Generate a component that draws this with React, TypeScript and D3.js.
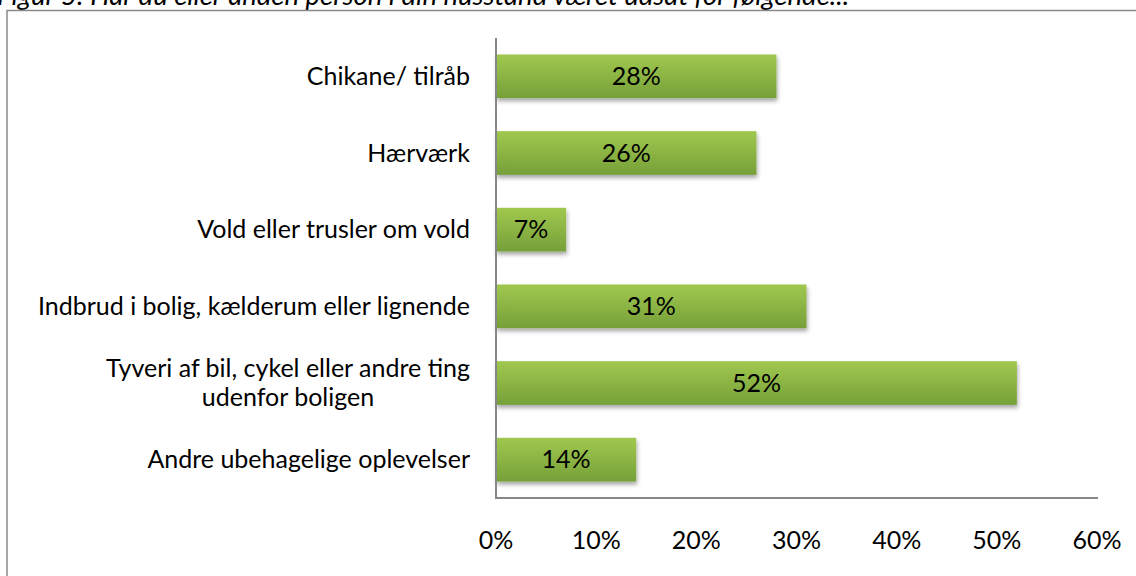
import React, { useRef, useEffect } from 'react';
import * as d3 from 'd3';

const categories = [
  'Chikane/ tilråb',
  'Hærværk',
  'Vold eller trusler om vold',
  'Indbrud i bolig, kælderum eller lignende',
  'Tyveri af bil, cykel eller andre ting|udenfor boligen',
  'Andre ubehagelige oplevelser',
];
const values = [28, 26, 7, 31, 52, 14];
const xTicks = [0, 10, 20, 30, 40, 50, 60];
const title = 'Figur 5: Har du eller anden person i din husstand været udsat for følgende...';

const FONT = 'Lato, "Open Sans", sans-serif';
const FS = 25;

function App() {
  const svgRef = useRef<SVGSVGElement>(null);

  useEffect(() => {
    const svg = d3.select(svgRef.current);
    const width = 1136;
    const height = 576;
    const margin = { top: 38, right: 39, bottom: 78, left: 496 };

    svg.selectAll('*').remove();

    const defs = svg.append('defs');
    const grad = defs.append('linearGradient')
      .attr('id', 'barGrad')
      .attr('x1', 0).attr('y1', 0).attr('x2', 0).attr('y2', 1);
    grad.append('stop').attr('offset', '0%').attr('stop-color', '#a0c84f');
    grad.append('stop').attr('offset', '100%').attr('stop-color', '#76a039');

    const shadow = defs.append('filter')
      .attr('id', 'barShadow')
      .attr('x', '-5%').attr('y', '-20%').attr('width', '115%').attr('height', '160%');
    shadow.append('feDropShadow')
      .attr('dx', 1).attr('dy', 3).attr('stdDeviation', 2)
      .attr('flood-color', '#000').attr('flood-opacity', 0.35);

    // title, cut off by the top edge like in the source
    svg.append('text')
      .attr('x', -3)
      .attr('y', 5)
      .attr('font-family', FONT)
      .attr('font-style', 'italic')
      .attr('font-size', 27.5)
      .attr('fill', '#000')
      .text(title);

    // outer frame (runs off the page right and bottom)
    svg.append('rect')
      .attr('x', 7)
      .attr('y', 10.5)
      .attr('width', width + 20)
      .attr('height', height + 20)
      .attr('fill', 'none')
      .attr('stroke', '#8a8a8a')
      .attr('stroke-width', 1.5);

    const x = d3.scaleLinear()
      .domain([0, 60])
      .range([margin.left, width - margin.right]);

    const y = d3.scaleBand()
      .domain(d3.range(categories.length).map(String))
      .range([margin.top, height - margin.bottom])
      .padding(0);

    const barH = y.bandwidth() * 0.57;

    // bars
    svg.append('g')
      .selectAll('rect')
      .data(values)
      .join('rect')
      .attr('x', x(0))
      .attr('y', (d, i) => y(String(i))! + (y.bandwidth() - barH) / 2)
      .attr('width', d => x(d) - x(0))
      .attr('height', barH)
      .attr('fill', 'url(#barGrad)')
      .attr('filter', 'url(#barShadow)');

    // value labels
    svg.append('g')
      .selectAll('text')
      .data(values)
      .join('text')
      .attr('x', d => (x(0) + x(d)) / 2)
      .attr('y', (d, i) => y(String(i))! + y.bandwidth() / 2)
      .attr('dy', '0.35em')
      .attr('text-anchor', 'middle')
      .attr('font-family', FONT)
      .attr('font-size', FS)
      .attr('fill', '#000')
      .text(d => d + '%');

    // axis lines
    svg.append('line')
      .attr('x1', x(0)).attr('x2', x(0))
      .attr('y1', margin.top).attr('y2', height - margin.bottom)
      .attr('stroke', '#878787').attr('stroke-width', 2);
    svg.append('line')
      .attr('x1', x(0) - 1).attr('x2', x(60) + 1)
      .attr('y1', height - margin.bottom).attr('y2', height - margin.bottom)
      .attr('stroke', '#878787').attr('stroke-width', 2);

    // category labels
    const cats = svg.append('g')
      .selectAll('text')
      .data(categories)
      .join('text')
      .attr('text-anchor', 'middle')
      .attr('font-family', FONT)
      .attr('font-size', FS)
      .attr('fill', '#000');
    cats.each(function (d, i) {
      const lines = d.split('|');
      const t = d3.select(this);
      const cy = y(String(i))! + y.bandwidth() / 2;
      const lh = 29;
      lines.forEach((ln, j) => {
        t.append('tspan')
          .attr('x', 0)
          .attr('y', cy + (j - (lines.length - 1) / 2) * lh)
          .attr('dy', '0.35em')
          .text(ln);
      });
    });
    // right-align the block, centre the lines within it
    cats.each(function () {
      const el = this as SVGTextElement;
      const bb = el.getBBox();
      d3.select(el).attr('transform', `translate(${470 - bb.width / 2},0)`);
    });

    // x tick labels
    svg.append('g')
      .selectAll('text')
      .data(xTicks)
      .join('text')
      .attr('x', d => x(d))
      .attr('y', 540)
      .attr('dy', '0.35em')
      .attr('text-anchor', 'middle')
      .attr('font-family', FONT)
      .attr('font-size', FS)
      .attr('fill', '#000')
      .text(d => d + '%');
  }, []);

  return (
    <svg
      ref={svgRef}
      width={1136}
      height={576}
      style={{ position: 'absolute', left: 0, top: 0, background: '#fff' }}
    />
  );
}

export default App;
